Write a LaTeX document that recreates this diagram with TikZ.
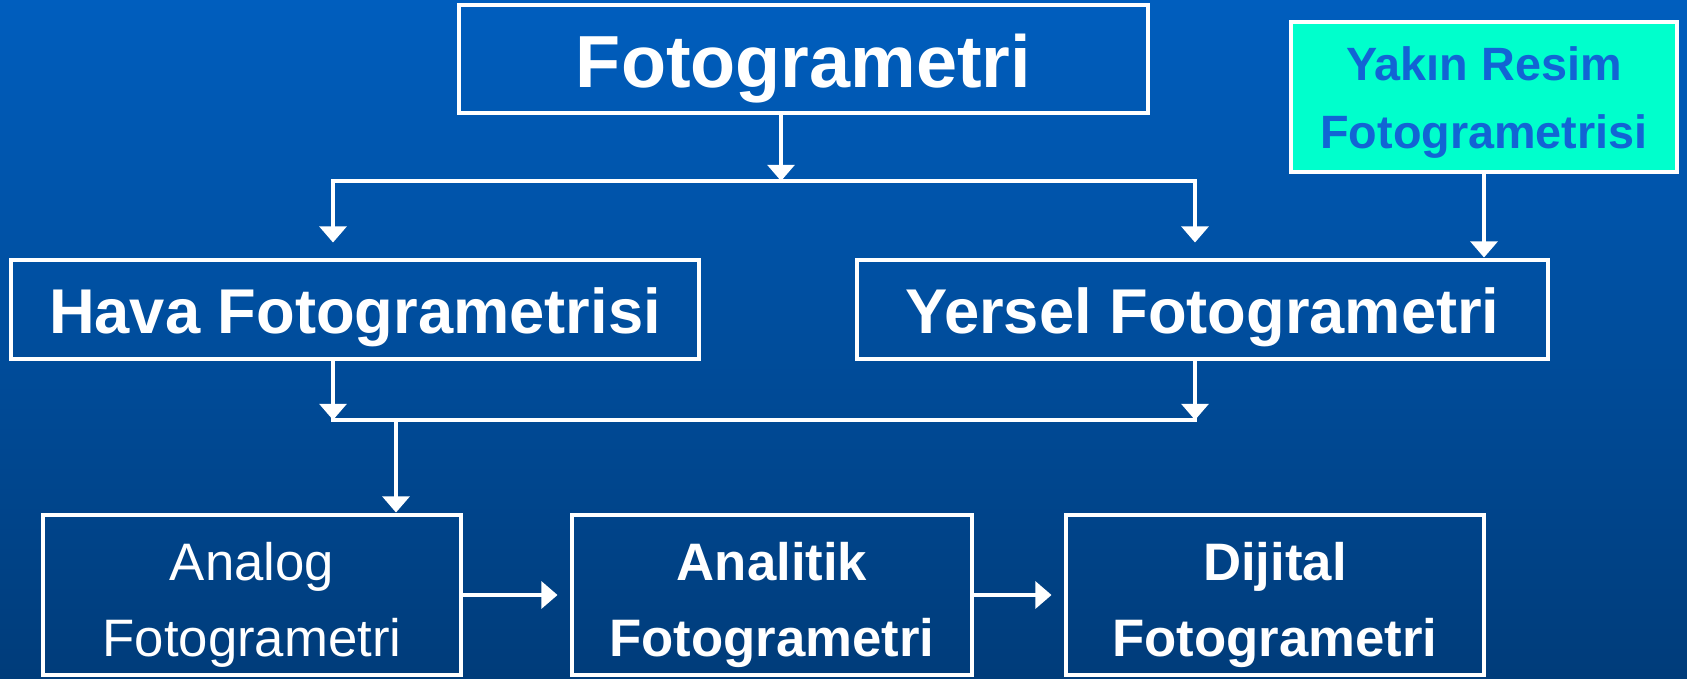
\documentclass[tikz,border=0pt]{standalone}
\usepackage{fontspec}
\setmainfont{Liberation Sans}
\usetikzlibrary{arrows.meta}
\definecolor{bgtop}{RGB}{0,94,190}
\definecolor{bgbot}{RGB}{0,60,122}
\definecolor{yakinfill}{RGB}{0,255,204}
\definecolor{yakintext}{RGB}{18,100,212}
\begin{document}
\begin{tikzpicture}[
  box/.style={draw=white,line width=1.4pt,inner sep=0pt,align=center,text=white},
  bigbox/.style={box,text height=0.82cm,text depth=0.26cm,font=\fontsize{21}{25}\selectfont\bfseries},
  midbox/.style={box,text height=0.73cm,text depth=0.26cm,font=\fontsize{18}{22}\selectfont\bfseries},
  lowbox/.style={box,text height=1.41cm,text depth=0.19cm,font=\fontsize{15}{21.6}\selectfont},
  arr/.style={draw=white,line width=1.2pt,-{Triangle[length=4.6pt,width=7.6pt]}},
  ln/.style={draw=white,line width=1.2pt,line cap=rect}]
  \useasboundingbox (0,0) rectangle (16.87,-6.78);
  \shade[top color=bgtop,bottom color=bgbot] (0,0) rectangle (16.87,-6.78);
  % kutular
  \node[bigbox,minimum width=6.89cm] (foto) at (8.035,-0.59) {Fotogrametri};
  \node[box,fill=yakinfill,text=yakintext,minimum width=3.86cm,text height=1.26cm,text depth=0.24cm,
    font=\fontsize{13.3}{19.3}\selectfont\bfseries] (yakin) at (14.84,-0.97) {Yakın Resim\\Fotogrametrisi};
  \node[midbox,minimum width=6.88cm] (hava) at (3.55,-3.095) {Hava Fotogrametrisi};
  \node[midbox,minimum width=6.91cm] (yersel) at (12.025,-3.095) {Yersel Fotogrametri};
  \node[lowbox,minimum width=4.18cm] (analog) at (2.52,-5.95) {Analog\\Fotogrametri};
  \node[lowbox,minimum width=4.0cm,font=\fontsize{15}{21.6}\selectfont\bfseries] (analitik) at (7.72,-5.95) {Analitik\\Fotogrametri};
  \node[lowbox,minimum width=4.18cm,font=\fontsize{15}{21.6}\selectfont\bfseries] (dijital) at (12.75,-5.95) {Dijital\\Fotogrametri};
  % baglantilar
  \coordinate (j1) at (7.81,-1.81);
  \coordinate (l1) at (3.33,-1.81);
  \coordinate (r1) at (11.95,-1.81);
  \coordinate (l2) at (3.33,-4.20);
  \coordinate (r2) at (11.95,-4.20);
  \coordinate (d2) at (3.96,-4.20);
  \draw[arr] (foto.south -| j1) -- (j1);
  \draw[ln] (l1) -- (r1);
  \draw[arr,shorten >=1.5mm] (l1) -- (l1 |- hava.north);
  \draw[arr,shorten >=1.5mm] (r1) -- (r1 |- yersel.north);
  \draw[arr] (yakin.south) -- (yakin.south |- yersel.north);
  \draw[arr] (l2 |- hava.south) -- (l2);
  \draw[arr] (r2 |- yersel.south) -- (r2);
  \draw[ln] (l2) -- (r2);
  \draw[arr] (d2) -- (d2 |- analog.north);
  \draw[arr,shorten >=1.2mm] (analog.east) -- (analitik.west);
  \draw[arr,shorten >=1.2mm] (analitik.east) -- (dijital.west);
\end{tikzpicture}
\end{document}
